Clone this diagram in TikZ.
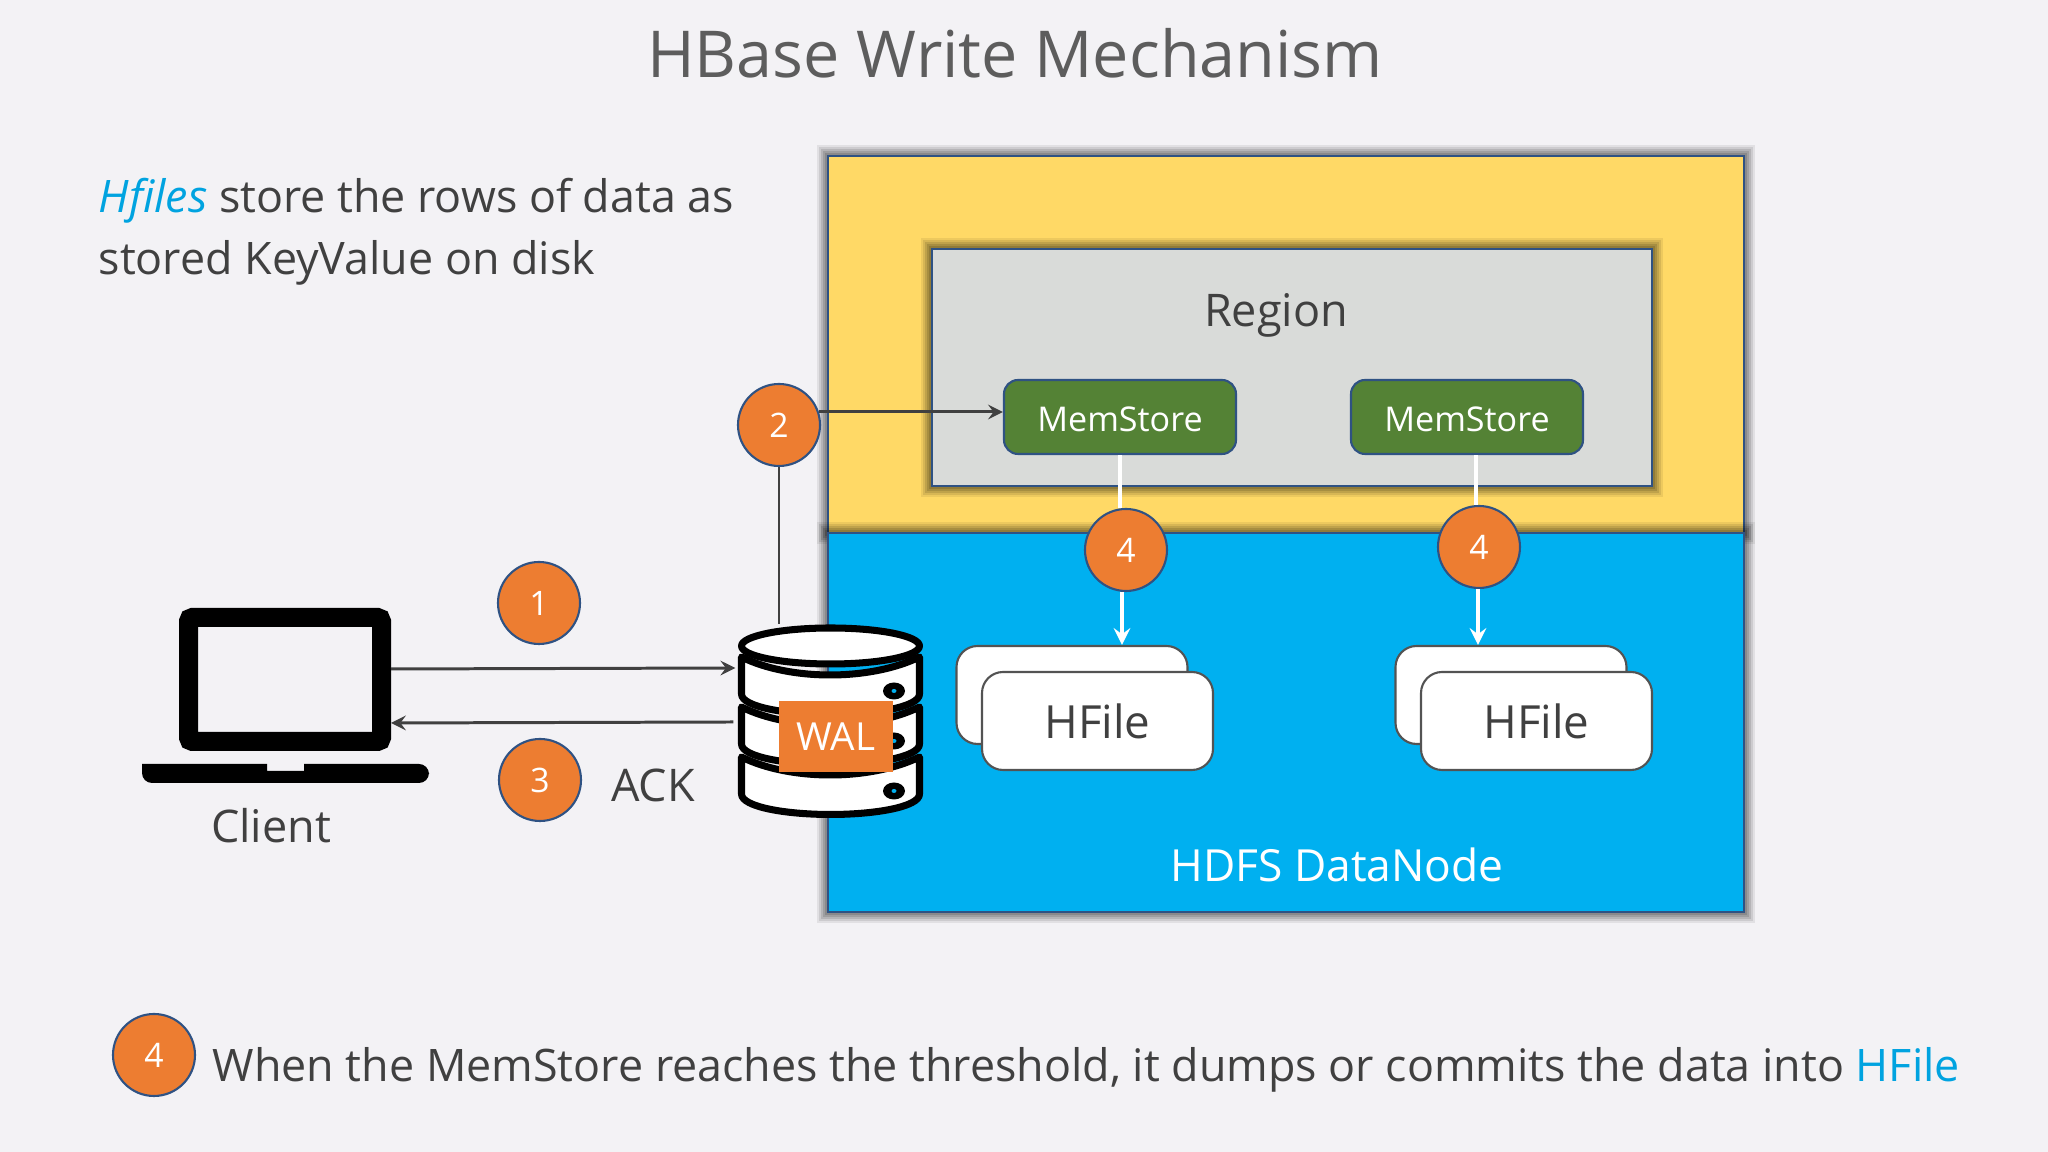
\documentclass[tikz,border=0pt]{standalone}
\usepackage{fontspec}
\usepackage{xcolor}
\usepackage{tikz}
\usetikzlibrary{shapes,arrows,positioning,calc}
\setmainfont{Open Sans}
\definecolor{pagebg}{HTML}{F3F2F5}
\definecolor{yellowbox}{HTML}{FFD966}
\definecolor{bluebox}{HTML}{00B0F0}
\definecolor{greybox}{HTML}{D9DBD9}
\definecolor{greenbox}{HTML}{548235}
\definecolor{orangebox}{HTML}{ED7D31}
\definecolor{edgeblue}{HTML}{2F5283}
\definecolor{inktext}{HTML}{404040}
\definecolor{hilite}{HTML}{00A3E0}

\begin{document}
\begin{tikzpicture}[
  softshade/.style={
    preaction={draw=black, opacity=.07, line width=.22cm},
    preaction={draw=black, opacity=.09, line width=.18cm},
    preaction={draw=black, opacity=.11, line width=.14cm},
    preaction={draw=black, opacity=.12, line width=.10cm},
    preaction={draw=black, opacity=.13, line width=.06cm}},
  box/.style={rectangle, draw=edgeblue, line width=.7pt, inner sep=0pt},
  hfilebox/.style={rectangle, draw=inktext!90, line width=.6pt, fill=white, rounded corners=6pt,
              minimum width=2.31cm, minimum height=.98cm, inner sep=0pt,
              text=inktext, font=\fontsize{13}{15}\selectfont},
  memstore/.style={rectangle, draw=edgeblue, line width=.6pt, fill=greenbox, rounded corners=4pt,
              minimum width=2.32cm, minimum height=.74cm, inner sep=0pt,
              text height=.29cm, text depth=0pt,
              text=white, font=\fontsize{9.7}{12}\selectfont},
  stepnum/.style={circle, draw=edgeblue, line width=.6pt, fill=orangebox, text=white,
              minimum size=.82cm, inner sep=0pt, font=\fontsize{9.6}{12}\selectfont},
  lbl/.style={text=inktext, inner sep=0pt, font=\fontsize{12.8}{15}\selectfont},
  arr/.style={->, >=stealth, draw=inktext, line width=.85pt},
  warr/.style={->, >=stealth, draw=white, line width=1.1pt},
  band/.style={draw=black, fill=white, line width=2pt, line join=round}
]
\path[use as bounding box, fill=pagebg] (0,0) rectangle (20.48,11.52);

\node[lbl, text=inktext!85, font=\fontsize{18.4}{22}\selectfont] (title) at (10.15,10.99) {HBase Write Mechanism};
\node[lbl, anchor=north west, align=left, font=\fontsize{12.75}{17.4}\selectfont] (note) at (.98,9.74) {
  {\color{hilite}\itshape Hfiles} store the rows of data as\\
  stored KeyValue on disk
};

\node[box, softshade, fill=yellowbox, minimum width=9.16cm, minimum height=3.77cm] (server) at (12.86,8.075) {};
\node[box, softshade, fill=bluebox, minimum width=9.16cm, minimum height=3.79cm] (datanode) at (12.86,4.295) {};
\node[box, softshade, fill=greybox, minimum width=7.20cm, minimum height=2.37cm] (region) at (12.92,7.845) {};

\node[lbl] (regionlabel) at (12.76,8.37) {Region};
\node[lbl, text=white, font=\fontsize{12.6}{15}\selectfont] (datanodelabel) at (13.37,2.87) {HDFS DataNode};

\node[memstore] (ms1) at (11.20,7.35) {MemStore};
\node[memstore] (ms2) at (14.67,7.35) {MemStore};

\node[hfilebox] (hf1back) at (10.72,4.57) {};
\node[hfilebox] (hf1) at (10.975,4.31) {HFile};
\node[hfilebox] (hf2back) at (15.11,4.57) {};
\node[hfilebox] (hf2) at (15.365,4.31) {HFile};

\node[stepnum] (s2) at (7.79,7.27) {2};
\node[stepnum] (s1) at (5.39,5.49) {1};
\node[stepnum] (s3) at (5.40,3.72) {3};
\node[stepnum] (s4a) at (11.26,6.02) {4};
\node[stepnum] (s4b) at (14.79,6.05) {4};
\node[stepnum] (s4c) at (1.54,.97) {4};

\node[rectangle, draw=black, line width=.19cm, fill=pagebg, rounded corners=.04cm,
      minimum width=1.93cm, minimum height=1.24cm, inner sep=0pt] (client) at (2.85,4.725) {};
\fill[black, rounded corners=.1cm] (1.42,3.88) -- (1.42,3.69) -- (4.29,3.69) -- (4.29,3.88)
  [sharp corners] -- (3.04,3.88) -- (3.04,3.81) -- (2.67,3.81) -- (2.67,3.88) -- cycle;
\node[lbl] (clientlabel) at (2.71,3.26) {Client};

\node[rectangle, minimum width=1.85cm, minimum height=1.90cm, inner sep=0pt] (db) at (8.305,4.32) {};
\foreach \dy in {1.00,.50,0}{
  \begin{scope}[yshift=-\dy cm]
    \path[band] (7.415,4.95) .. controls (7.9,4.71) and (8.7,4.71) .. (9.195,4.95)
      -- (9.195,4.58) .. controls (9.195,4.45) and (8.75,4.375) .. (8.305,4.375)
      .. controls (7.86,4.375) and (7.415,4.45) .. (7.415,4.58) -- cycle;
    \fill[black] (8.94,4.61) ellipse (.11cm and .085cm);
    \fill[bluebox] (8.94,4.61) ellipse (.025cm and .02cm);
  \end{scope}
}
\path[band] (8.305,5.06) ellipse (.89cm and .18cm);
\node[rectangle, fill=orangebox, minimum width=1.14cm, minimum height=.71cm, inner sep=0pt,
      text=white, font=\fontsize{11}{13}\selectfont] (wal) at (8.36,4.155) {WAL};

\node[lbl] (ack) at (6.53,3.67) {ACK};

\draw[arr] ([yshift=.105cm]client.east) -- ([xshift=-.02cm,yshift=.52cm]db.west);
\draw[arr] ([xshift=-.04cm,yshift=-.02cm]db.west) -- ([yshift=-.435cm]client.east);
\draw[arr, -] (s2.south) -- (s2.south |- db.north);
\draw[arr] (s2.18) -- (s2.18 -| ms1.west);
\draw[warr, -] (ms1.south) -- (ms1.south |- s4a.north);
\draw[warr, -] ([xshift=.09cm]ms2.south) -- ([xshift=.09cm]ms2.south |- s4b.north);
\draw[warr] ([xshift=-.04cm]s4a.south) -- ([xshift=-.04cm]s4a.south |- hf1back.north);
\draw[warr] ([xshift=-.01cm]s4b.south) -- ([xshift=-.01cm]s4b.south |- hf2back.north);

\node[lbl, anchor=base west, font=\fontsize{12.75}{15}\selectfont] (footer) at (2.12,.70)
  {When the MemStore reaches the threshold, it dumps or commits the data into {\color{hilite}HFile}};
\end{tikzpicture}
\end{document}
